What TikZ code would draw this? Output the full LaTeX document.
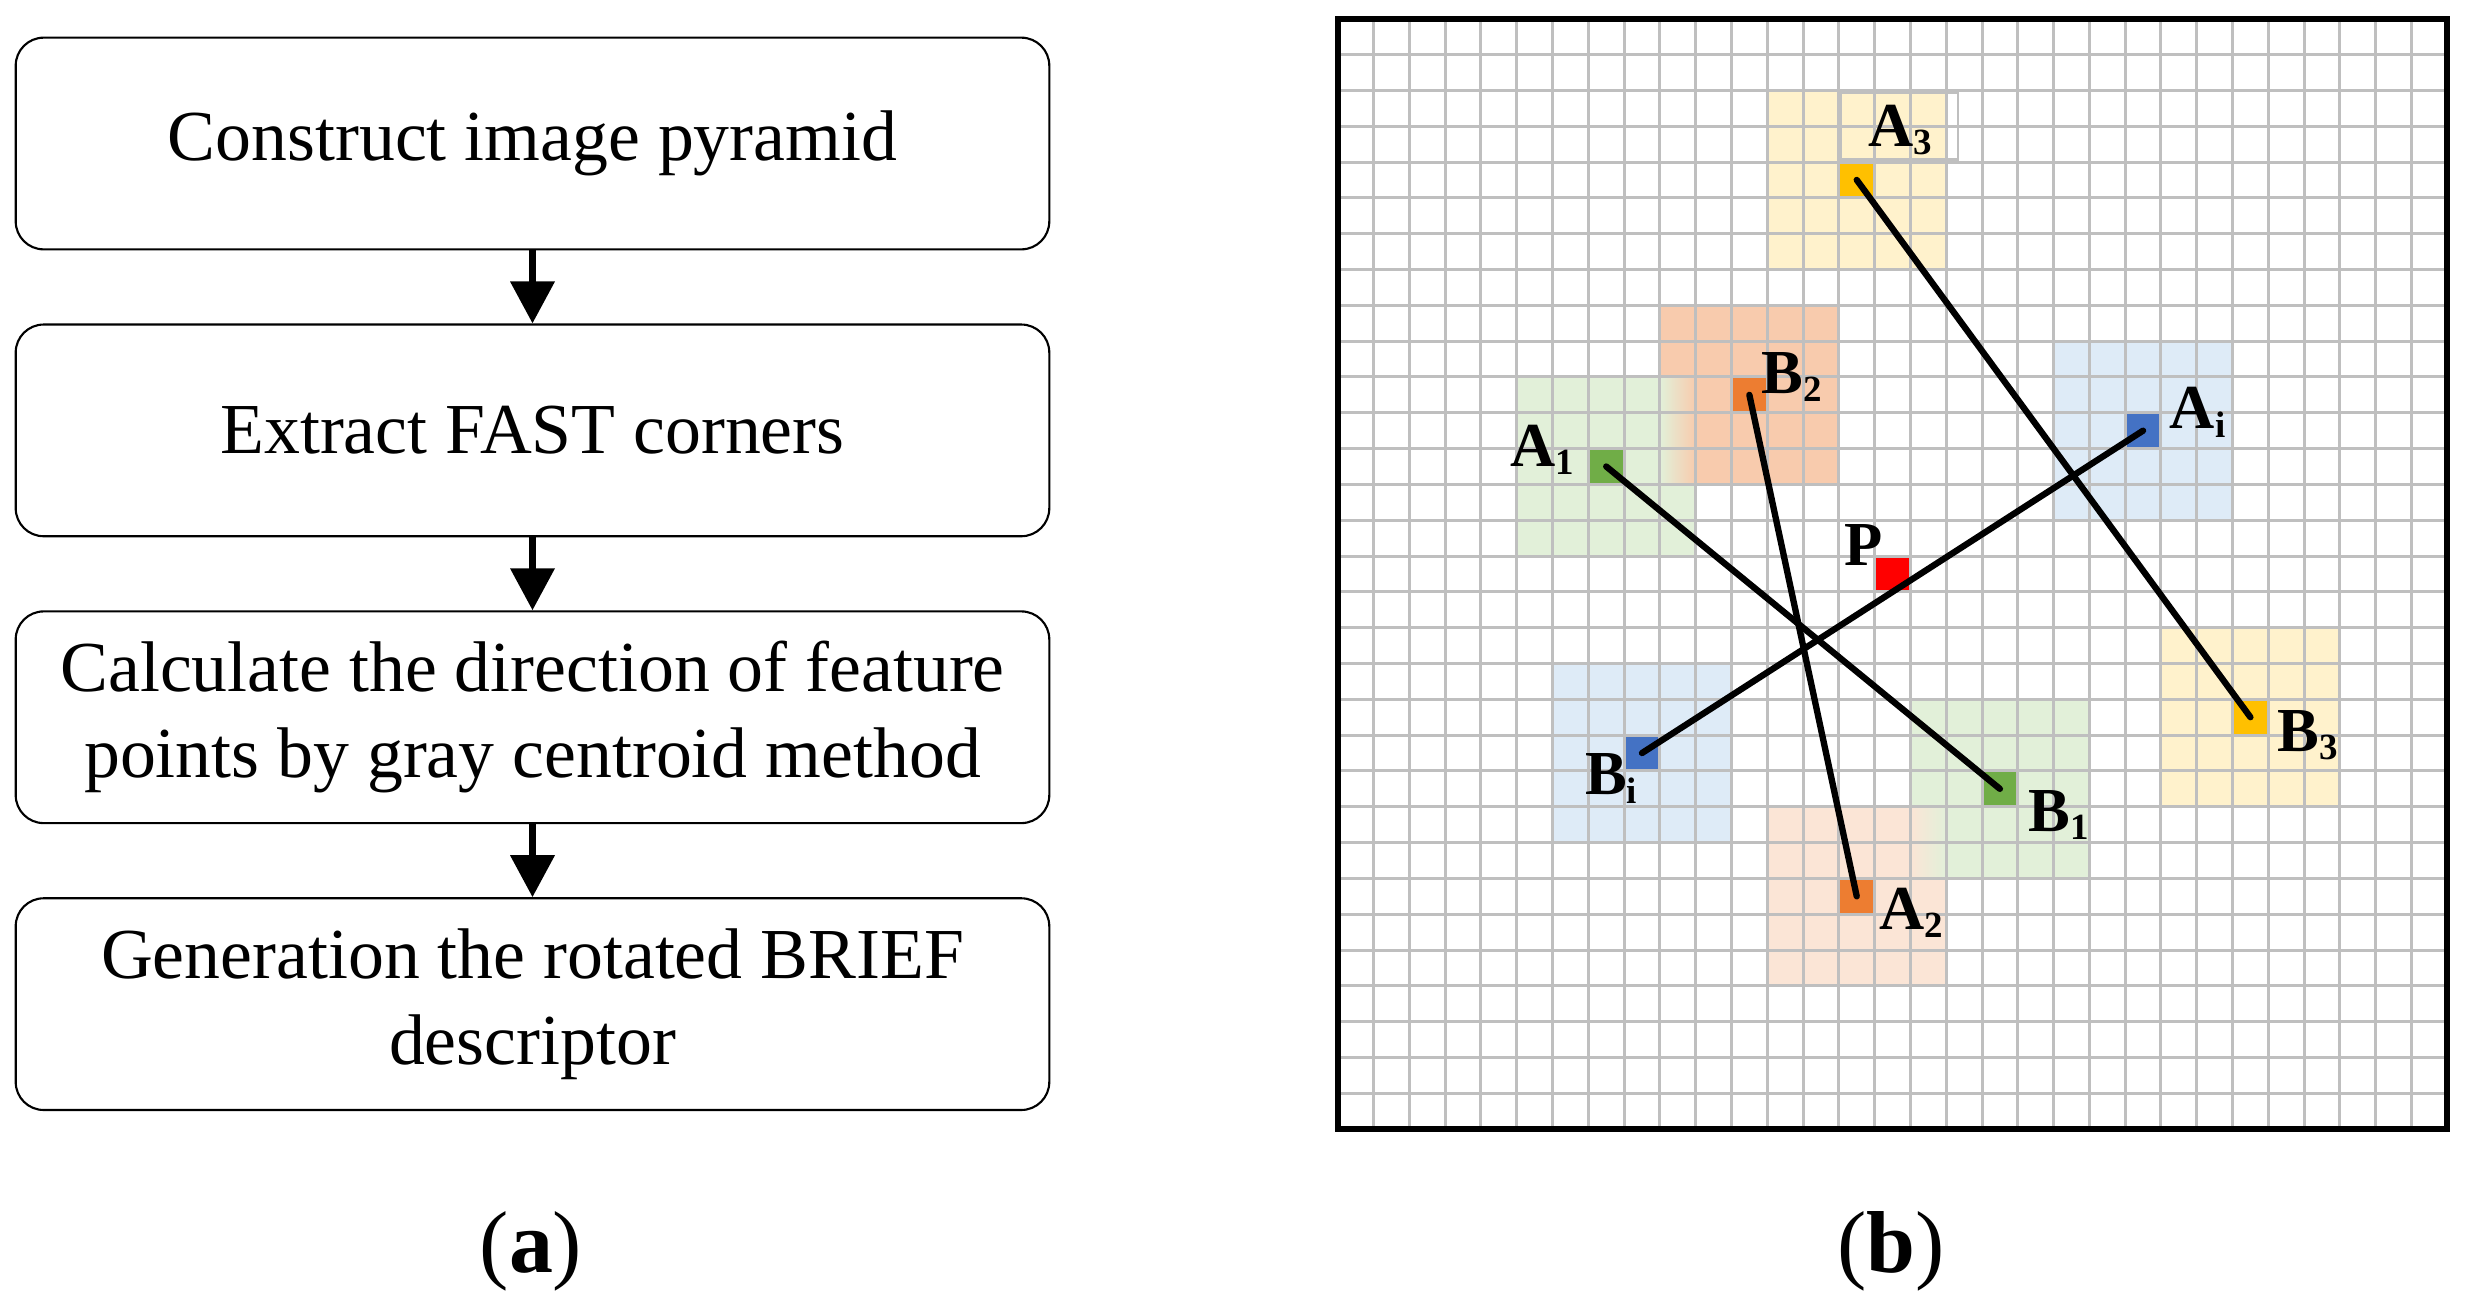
\documentclass[tikz,border=0pt]{standalone}
\usepackage{fontspec}
\setmainfont{Liberation Serif}
\usetikzlibrary{positioning,arrows.meta}
\definecolor{gridgray}{HTML}{BFBFBF}
\definecolor{ylight}{HTML}{FFF2CC}
\definecolor{ydark}{HTML}{FFC000}
\definecolor{olight}{HTML}{F8CBAD}
\definecolor{opale}{HTML}{FBE5D6}
\definecolor{odark}{HTML}{ED7D31}
\definecolor{glight}{HTML}{E2F0D9}
\definecolor{gdark}{HTML}{70AD47}
\definecolor{blight}{HTML}{DEEBF7}
\definecolor{bdark}{HTML}{4472C4}
\newcommand{\ptlab}[2]{\textbf{#1\raisebox{-0.13em}{\fontsize{10.5pt}{12pt}\selectfont #2}}}
\tikzset{
  stepbox/.style={draw, line width=0.6pt, rounded corners=0.28cm, minimum width=10.33cm,
    minimum height=2.116cm, align=center, font=\fontsize{20.4pt}{24.4pt}\selectfont},
  flow/.style={line width=2pt, -{Triangle[length=0.42cm,width=0.43cm]}},
  cell/.style={minimum width=0.3577cm, minimum height=0.358cm, inner sep=0pt, outer sep=0pt},
  pair/.style={line width=1.8pt, line cap=round},
  lab/.style={anchor=base west, inner sep=0pt, font=\fontsize{17.8pt}{20pt}\selectfont},
  caption/.style={font=\fontsize{25pt}{30pt}\selectfont}
}
\begin{document}
\begin{tikzpicture}[x=0.01cm,y=-0.01cm]
	\useasboundingbox (0,0) rectangle (2474,1308);
	% (a) flow chart
	\node[stepbox] (pyr) at (532.5,143.5) {Construct image pyramid};
	\node[stepbox, below=0.73cm of pyr] (fast) {Extract FAST corners};
	\node[stepbox, below=0.73cm of fast] (dir) {Calculate the direction of feature\\points by gray centroid method};
	\node[stepbox, below=0.73cm of dir] (brief) {Generation the rotated BRIEF\\descriptor};
	\draw[flow] (pyr) -- (fast);
	\draw[flow] (fast) -- (dir);
	\draw[flow] (dir) -- (brief);
	\node[caption] (capa) at (531,1251) {(\textbf{a})};
	\node[caption] (capb) at (1891,1251) {(\textbf{b})};
	% (b) pixel pairs around P
	\begin{scope}[shift={(13.37cm,-0.187cm)}, x=0.3577cm, y=-0.358cm]
		\fill[ylight] (12,2) rectangle (17,7);
		\fill[ylight] (23,17) rectangle (28,22);
		\fill[olight] (9,8) rectangle (14,13);
		\fill[opale] (12,22) rectangle (17,27);
		\fill[glight] (5,10) rectangle (10,15);
		\fill[glight] (16,19) rectangle (21,24);
		\fill[blight] (20,9) rectangle (25,14);
		\fill[blight] (6,18) rectangle (11,23);
		\shade[left color=glight, right color=olight] (9,10) rectangle (10,13);
		\shade[left color=opale, right color=glight] (16,22) rectangle (17,24);
		\node[cell, fill=gdark] (A1) at (7.5,12.5) {};
		\node[cell, fill=gdark] (B1) at (18.5,21.5) {};
		\node[cell, fill=odark] (A2) at (14.5,24.5) {};
		\node[cell, fill=odark] (B2) at (11.5,10.5) {};
		\node[cell, fill=ydark] (A3) at (14.5,4.5) {};
		\node[cell, fill=ydark] (B3) at (25.5,19.5) {};
		\node[cell, fill=bdark] (Ai) at (22.5,11.5) {};
		\node[cell, fill=bdark] (Bi) at (8.5,20.5) {};
		\node[cell, fill=red] (P) at (15.5,15.5) {};
		\foreach \i in {1,...,30} {
			\draw[gridgray, line width=0.85pt] (\i,0) -- (\i,31);
			\draw[gridgray, line width=0.85pt] (0,\i) -- (31,\i);
		}
		\draw[gridgray, line width=0.6pt] (14.07,2.08) rectangle (17.33,3.93);
		\draw[line width=1.7pt] (0,0) rectangle (31,31);
		\foreach \a/\b in {A1/B1,A2/B2,A3/B3,Ai/Bi}
			\draw[pair] (\a.center) -- (\b.center);
		\node[lab] (A3lab) at (14.81,3.575) {\ptlab{A}{3}};
		\node[lab] (B2lab) at (11.83,10.47) {\ptlab{B}{2}};
		\node[lab] (A1lab) at (4.80,12.51) {\ptlab{A}{1}};
		\node[lab] (Ailab) at (23.23,11.45) {\ptlab{A}{i}};
		\node[lab] (Plab) at (14.13,15.26) {\textbf{P}};
		\node[lab] (Bilab) at (6.89,21.67) {\ptlab{B}{i}};
		\node[lab] (B3lab) at (26.23,20.45) {\ptlab{B}{3}};
		\node[lab] (B1lab) at (19.28,22.69) {\ptlab{B}{1}};
		\node[lab] (A2lab) at (15.12,25.43) {\ptlab{A}{2}};
	\end{scope}
\end{tikzpicture}
\end{document}
